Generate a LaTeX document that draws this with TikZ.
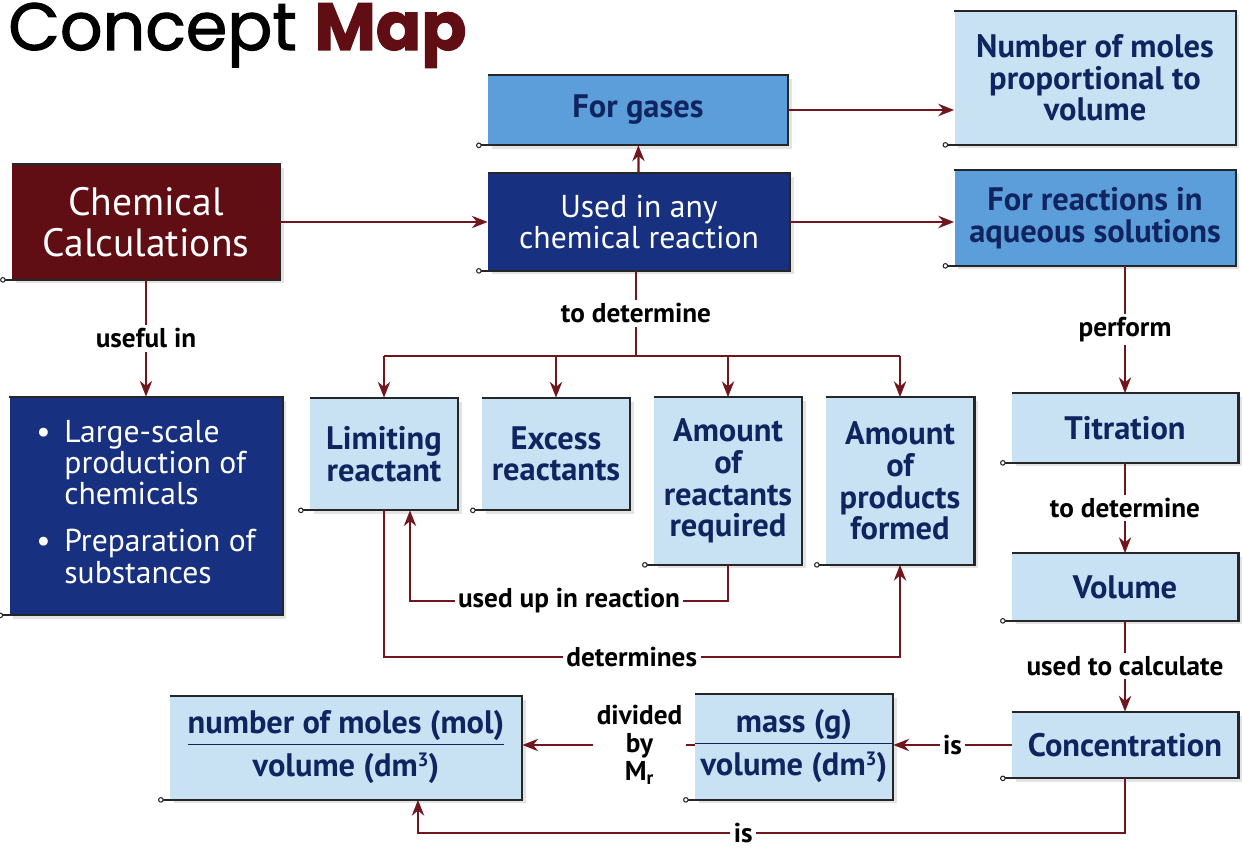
\documentclass[tikz,border=0pt]{standalone}
\usepackage{fontspec}
\setmainfont{PT Sans}
\newfontfamily\titlefont{Poppins}[FakeBold=1.6]
\usetikzlibrary{arrows.meta,shadows}

\definecolor{chemred}{RGB}{96,14,20}
\definecolor{navyfill}{RGB}{24,48,128}
\definecolor{midblue}{RGB}{92,158,218}
\definecolor{paleblue}{RGB}{200,226,244}
\definecolor{inkblue}{RGB}{16,36,96}
\definecolor{linkred}{RGB}{112,22,28}

\def\px{0.02cm} % one pixel of the page
\newcommand\cube{\raisebox{6pt}{\fontsize{11}{11}\selectfont 3}}

\tikzset{
  box/.style={inner sep=0pt, align=center,
    drop shadow={opacity=0.22, shadow xshift=2pt, shadow yshift=-2pt}},
  wh/.style 2 args={minimum width=#1*\px, minimum height=#2*\px},
  redbox/.style={box, fill=chemred, text=white, font=\fontsize{22.5}{23}\selectfont},
  navybox/.style={box, fill=navyfill, text=white, font=\fontsize{18}{17.5}\selectfont},
  midbox/.style={box, fill=midblue, text=inkblue, font=\bfseries\fontsize{18.5}{18}\selectfont},
  palebox/.style={box, fill=paleblue, text=inkblue, font=\bfseries\fontsize{18.5}{18}\selectfont},
  rim/.style={draw=black!85, line width=1.3pt},
  wire/.style={draw=linkred, line width=1.25pt},
  link/.style={wire, -{Stealth[length=9pt,width=7pt]}},
  lab/.style={fill=white, text=black, font=\bfseries\fontsize{15.5}{17}\selectfont, inner sep=2pt},
}

\begin{document}
\begin{tikzpicture}[x=\px, y=-\px]
\useasboundingbox (0,0) rectangle (1242,851);

% title
\node[anchor=base west, inner sep=0pt, font=\titlefont\fontsize{38}{40}\selectfont] (title) at (8,50)
  {Concept \textcolor{chemred}{\bfseries Map}};

% top part
\node[redbox, wh={268}{115}] (calc) at (146,222) {Chemical\\Calculations};
\node[navybox, wh={302}{97}] (used) at (639,222) {Used in any\\chemical reaction};
\node[midbox, wh={300}{70}] (gas) at (638,110) {For gases};
\node[palebox, wh={281}{133}] (moles) at (1095,78) {Number of moles\\proportional to\\volume};
\node[midbox, wh={281}{95}] (aq) at (1095,218) {For reactions in\\aqueous solutions};

% left box with bullets
\node[navybox, wh={273}{218}, font=\fontsize{18}{17}\selectfont] (uses) at (146,506)
  {\begin{tabular}{@{}l@{\ \,}l@{}}
   \textbullet & Large-scale\\ & production of\\ & chemicals\\[9pt]
   \textbullet & Preparation of\\ & substances
   \end{tabular}};

% middle row
\node[palebox, wh={148}{112}] (lim) at (384,454) {Limiting\\reactant};
\node[palebox, wh={148}{112}] (exc) at (556,454) {Excess\\reactants};
\node[palebox, wh={148}{167}] (req) at (728,481) {Amount\\of\\reactants\\required};
\node[palebox, wh={148}{167}] (prod) at (900,481) {Amount\\of\\products\\formed};

% right column
\node[palebox, wh={226}{69}] (tit) at (1125,428) {Titration};
\node[palebox, wh={226}{67}] (vol) at (1125,587) {Volume};
\node[palebox, wh={226}{66}] (conc) at (1125,745) {Concentration};

% bottom row
\node[palebox, wh={198}{105}] (mass) at (794,747)
  {\begin{tabular}{@{\,}c@{\,}}mass (g)\\[1pt]\hline
   \rule{0pt}{18pt}volume (dm\cube)\end{tabular}};
\node[palebox, wh={352}{103}] (num) at (346,748)
  {\begin{tabular}{@{}c@{}}number of moles (mol)\\[1pt]\hline
   \rule{0pt}{18pt}volume (dm\cube)\end{tabular}};

% frames: top, right, bottom with a small ring
\foreach \n in {calc,used,gas,moles,aq,uses,lim,exc,req,prod,tit,vol,conc,mass,num} {
  \draw[rim] (\n.north west) -- (\n.north east) -- (\n.south east) -- ([xshift=-4pt]\n.south west);
  \draw[black!85, line width=0.6pt, fill=white] ([xshift=-5pt]\n.south west) circle (1.3pt);
}

% connectors
\draw[link] (calc) -- (used);
\draw[link] (used) -- (gas);
\draw[link] (gas.east) -- (gas.east -| moles.west);
\draw[link] (used.east) -- (used.east -| aq.west);
\draw[link] (calc.south -| uses) -- node[lab]{useful in} (uses.north);

\coordinate (br) at (636,356);
\draw[wire] (used.south -| br) -- node[lab]{to determine} (br);
\draw[wire] (br -| lim) -- (br -| prod);
\foreach \n in {lim,exc,req,prod}
  \draw[link] (br -| \n) -- (\n.north);

\coordinate (upin) at ([xshift=26*\px]lim.south);
\draw[link] (req.south) -- ++(0,36) -| node[lab, pos=0.25]{used up in reaction} (upin);
\draw[link] (lim.south) -- ++(0,147) -| node[lab, pos=0.24]{determines} (prod.south);

\draw[link] (aq.south -| tit) -- node[lab]{perform} (tit.north);
\draw[link] (tit) -- node[lab]{to determine} (vol);
\draw[link] (vol) -- node[lab]{used to calculate} (conc);

\draw[link] (conc.west) -- node[lab]{is} (conc.west -| mass.east);
\draw[link] (mass.west |- conc.west) -- node[lab, pos=0.32, align=center, font=\bfseries\fontsize{15.5}{16}\selectfont]
  {divided\\by\\M\textsubscript{r}} (mass.west |- conc.west -| num.east);

\coordinate (isin) at ([xshift=72*\px]num.south);
\draw[link] (conc.south) -- ++(0,55) -| node[lab, pos=0.27]{is} (isin);

\end{tikzpicture}
\end{document}
